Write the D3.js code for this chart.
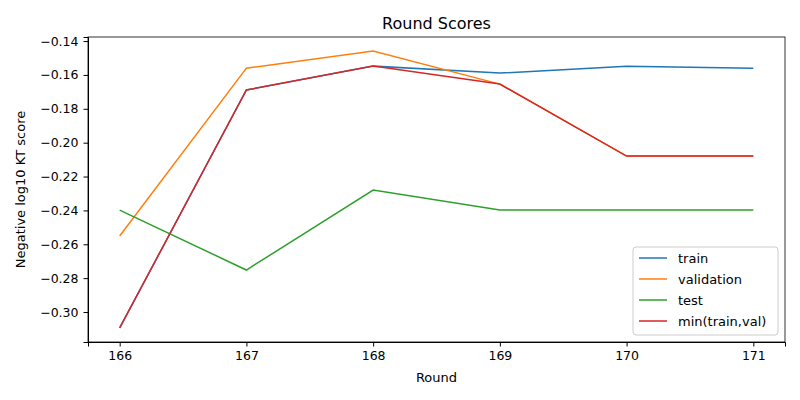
<!DOCTYPE html><html><head><meta charset="utf-8">
<script src="https://cdn.jsdelivr.net/npm/d3@7"></script>
<style>body{margin:0;background:#fff}text{font-family:"DejaVu Sans",sans-serif}</style></head><body>
<svg id="c" width="800" height="400"></svg>
<script>
const rounds=[166,167,168,169,170,171];
const train=[-0.3094,-0.1689,-0.1548,-0.1589,-0.1548,-0.1560];
const validation=[-0.2551,-0.1560,-0.1459,-0.1654,-0.2079,-0.2079];
const test=[-0.2398,-0.2752,-0.2280,-0.2398,-0.2398,-0.2398];
const minTrainVal=[-0.3094,-0.1689,-0.1548,-0.1654,-0.2079,-0.2079];
const yTicks=[-0.30,-0.28,-0.26,-0.24,-0.22,-0.20,-0.18,-0.16,-0.14];
const series=[["train",train,"#1f77b4"],["validation",validation,"#ff7f0e"],["test",test,"#2ca02c"],["min(train,val)",minTrainVal,"#d62728"]];
const L=88,R=785,T=37,B=342;
const svg=d3.select("#c");
const x=d3.scaleLinear().domain([165.75,171.25]).range([L,R]);
const y=d3.scaleLinear().domain([-0.3177,-0.1376]).range([B,T]);
const fmt=d=>d3.format(".2f")(d).replace("-","\u2212");
svg.append("g").attr("transform",`translate(0,${B})`).call(d3.axisBottom(x).tickValues(rounds).tickFormat(d3.format("d")).tickSizeOuter(0).tickSize(4.5).tickPadding(5)).call(g=>g.selectAll("text").attr("font-size",12.5).attr("font-family","DejaVu Sans"));
svg.append("g").attr("transform",`translate(${L},0)`).call(d3.axisLeft(y).tickValues(yTicks).tickFormat(fmt).tickSizeOuter(0).tickSize(4.5).tickPadding(5)).call(g=>g.selectAll("text").attr("font-size",12.5).attr("font-family","DejaVu Sans"));
svg.append("rect").attr("x",L).attr("y",T).attr("width",R-L).attr("height",B-T).attr("fill","none").attr("stroke","#000").attr("stroke-width",0.8);
const line=d3.line().x((d,i)=>x(rounds[i])).y(d=>y(d));
series.forEach(([n,v,c])=>svg.append("path").attr("d",line(v)).attr("fill","none").attr("stroke",c).attr("stroke-width",1.5));
svg.append("text").attr("x",(L+R)/2).attr("y",29).attr("text-anchor","middle").attr("font-size",16).text("Round Scores");
svg.append("text").attr("x",(L+R)/2).attr("y",382).attr("text-anchor","middle").attr("font-size",13).text("Round");
svg.append("text").attr("transform",`translate(25,${(T+B)/2}) rotate(-90)`).attr("text-anchor","middle").attr("font-size",13).text("Negative log10 KT score");
const lg=svg.append("g").attr("transform","translate(633,247)");
lg.append("rect").attr("width",145).attr("height",88).attr("rx",3).attr("fill","#fff").attr("stroke","#ccc");
series.forEach(([n,v,c],i)=>{const yy=11+i*21;
lg.append("line").attr("x1",6).attr("x2",34).attr("y1",yy).attr("y2",yy).attr("stroke",c).attr("stroke-width",1.5);
lg.append("text").attr("x",45).attr("y",yy+4.5).attr("font-size",13).text(n);});
</script></body></html>
